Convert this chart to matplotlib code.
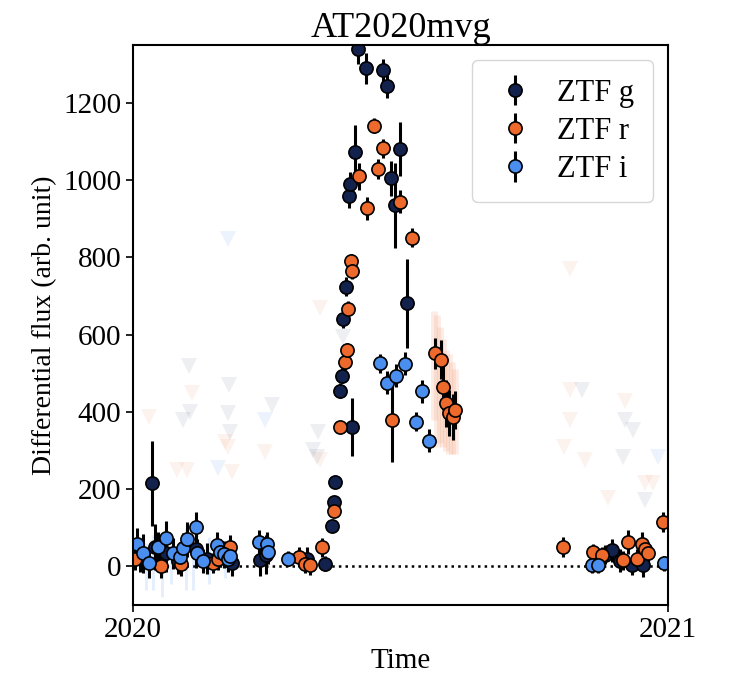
import matplotlib.pyplot as plt
import numpy as np

plt.rcParams['font.family'] = ['Liberation Serif', 'DejaVu Serif']
plt.rcParams['mathtext.fontset'] = 'stix'

# day of 2020, flux, error
g_day = [4.8, 12.8, 15.0, 22.6, 30.8, 43.1, 50.6, 60.9, 67.7, 86.9, 91.0, 118.8, 131.4,
         136.3, 137.7, 138.4, 141.6, 142.8, 143.9, 145.7, 148.0, 148.4, 149.6, 151.9,
         154.1, 159.4, 170.8, 173.6, 176.3, 179.2, 182.7, 187.2,
         322.9, 327.5, 333.2, 341.2, 349.1]
g_flux = [25, 215, 50, 35, 15, 45, 20, 35, 10, 16, 30, 20, 7,
          104, 167, 219, 455, 494, 641, 724, 958, 990, 362, 1072,
          1340, 1290, 1284, 1243, 1005, 935, 1081, 681,
          30, 42, 15, 3, 3]
g_err = [40, 110, 60, 50, 35, 50, 40, 30, 35, 40, 50, 30, 20,
         15, 15, 15, 20, 20, 25, 25, 30, 30, 75, 70,
         40, 40, 30, 30, 45, 110, 70, 115,
         25, 30, 30, 25, 30]

r_day = [1.4, 19.0, 32.6, 54.7, 58.1, 66.4, 113.8, 117.7, 121.1, 129.1,
         137.7, 141.6, 145.0, 146.2, 147.3, 148.9, 149.6, 154.6, 159.9, 164.9,
         167.8, 170.8, 177.0, 182.7, 190.7, 206.6, 210.5, 212.3, 214.1, 216.4,
         218.7, 220.3,
         294.4, 314.5, 320.6, 335.0, 338.8, 344.6, 348.0, 350.3, 352.5, 362.8]
r_flux = [20, 0, 5, 9, 20, 50, 24, 7, 3, 49,
          144, 362, 528, 559, 667, 790, 764, 1010, 927, 1141,
          1029, 1082, 379, 944, 851, 552, 535, 464, 422, 397,
          386, 405,
          50, 37, 29, 16, 63, 20, 59, 46, 35, 115]
r_err = [30, 30, 30, 25, 30, 30, 25, 25, 25, 25,
         12, 15, 20, 20, 20, 20, 20, 35, 30, 20,
         25, 25, 110, 30, 25, 40, 50, 60, 60, 60,
         60, 50,
         25, 20, 20, 25, 30, 25, 30, 25, 25, 25]

i_day = [2.5, 7.0, 11.2, 17.1, 22.6, 27.2, 32.2, 34.0, 37.1, 43.1, 44.0, 47.7,
         57.3, 59.5, 62.3, 65.2, 66.4, 86.4, 91.5, 92.6, 106.2,
         169.0, 173.6, 179.9, 186.1, 193.6, 197.5, 202.7,
         313.8, 318.3, 363.3]
i_flux = [59, 34, 9, 50, 73, 34, 24, 47, 70, 101, 35, 14,
          55, 37, 31, 20, 26, 63, 59, 37, 20,
          526, 476, 494, 525, 375, 453, 325,
          3, 3, 8]
i_err = [40, 50, 40, 40, 45, 40, 40, 40, 45, 40, 35, 30,
         35, 35, 35, 35, 30, 30, 30, 30, 20,
         25, 30, 30, 30, 25, 30, 30,
         20, 20, 20]

# faint low-significance points
r_faint_day = [206.0, 208.0, 210.0, 212.0, 214.0, 216.0, 218.0, 220.0]
r_faint_flux = [520, 480, 470, 450, 430, 420, 410, 400]
r_faint_err = [140, 170, 150, 140, 130, 130, 120, 110]
i_faint_day = [9.0, 14.0, 20.0, 26.0, 36.0, 41.0, 52.0, 63.0]
i_faint_flux = [0, 10, -10, 5, 20, 0, 15, 10]
i_faint_err = [60, 70, 70, 50, 80, 60, 60, 40]

# upper limits
g_lim_day = [34.4, 39.0, 38.5, 65.9, 65.2, 66.4, 94.9, 123.3, 126.8, 125.7, 143.9,
             307.0, 336.6, 342.3, 335.0, 350.3]
g_lim = [379, 400, 518, 470, 396, 349, 418, 301, 349, 284, 595,
         457, 379, 353, 284, 171]
r_lim_day = [11.2, 29.9, 36.7, 40.2, 62.9, 65.2, 67.5, 90.3, 127.9, 127.9,
             298.9, 298.9, 298.9, 294.8, 309.2, 336.6, 350.3, 355.9, 325.2]
r_lim = [388, 249, 249, 449, 323, 310, 245, 297, 275, 669,
         769, 457, 379, 310, 275, 427, 215, 215, 176]
i_lim_day = [65.2, 58.4, 90.3, 359.4]
i_lim = [847, 254, 379, 284]

c_g = '#13224d'
c_r = '#ee6a2c'
c_i = '#4a8ff0'

fig = plt.figure(figsize=(7.54, 6.92), dpi=100)
ax = fig.add_axes([0.1764, 0.1257, 0.7096, 0.8093])

ax.plot(g_lim_day, g_lim, 'v', color=c_g, alpha=0.07, ms=11, mew=0)
ax.plot(r_lim_day, r_lim, 'v', color=c_r, alpha=0.08, ms=11, mew=0)
ax.plot(i_lim_day, i_lim, 'v', color=c_i, alpha=0.1, ms=11, mew=0)

ax.errorbar(r_faint_day, r_faint_flux, yerr=r_faint_err, fmt='none',
            ecolor=c_r, alpha=0.12, elinewidth=5)
ax.errorbar(i_faint_day, i_faint_flux, yerr=i_faint_err, fmt='none',
            ecolor=c_i, alpha=0.15, elinewidth=2)

ax.axhline(0, color='k', ls=':', lw=1.8, zorder=1)

kw = dict(fmt='o', ecolor='k', mec='k', ms=9.5, mew=1.2, elinewidth=2.2, capsize=0)
ax.errorbar(g_day, g_flux, yerr=g_err, color=c_g, label='ZTF g', **kw)
ax.errorbar(r_day, r_flux, yerr=r_err, color=c_r, label='ZTF r', **kw)
ax.errorbar(i_day, i_flux, yerr=i_err, color=c_i, label='ZTF i', **kw)

ax.set_xlim(0, 366)
ax.set_ylim(-100, 1350)
ax.set_xticks([0, 366])
ax.set_xticklabels(['2020', '2021'])
ax.set_yticks([0, 200, 400, 600, 800, 1000, 1200])
ax.tick_params(labelsize=21, length=5, width=1.2)
for s in ax.spines.values():
    s.set_linewidth(1.5)
ax.set_xlabel('Time', fontsize=21)
ax.set_ylabel('Differential flux (arb. unit)', fontsize=20)
ax.set_title('AT2020mvg', fontsize=26)
ax.legend(loc='upper right', fontsize=22, frameon=True, handletextpad=0.6,
          handlelength=1.6, labelspacing=0.3, borderpad=0.6)

fig.savefig('out.png', dpi=100)
